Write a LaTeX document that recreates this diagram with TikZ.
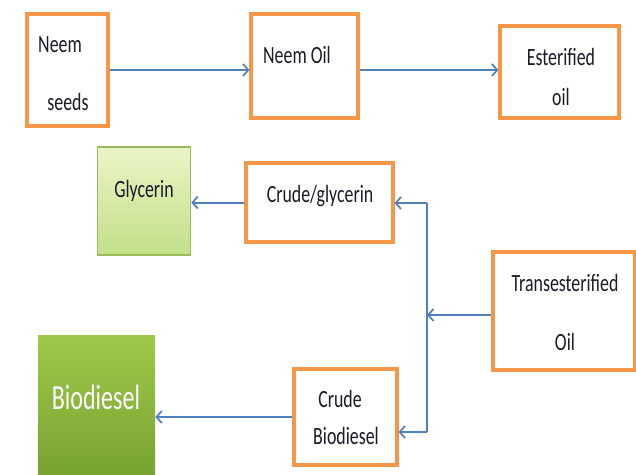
\documentclass[tikz,border=0pt]{standalone}
\usepackage{fontspec}
\setmainfont{Carlito}[FakeStretch=0.72]
\newfontfamily\bigfont{Carlito}[FakeStretch=0.68]
\usetikzlibrary{arrows.meta}
\definecolor{orng}{HTML}{F79646}
\definecolor{arr}{HTML}{4F81BD}
\definecolor{txt}{HTML}{1A1A28}
\definecolor{gltop}{HTML}{EAF5C6}
\definecolor{glbot}{HTML}{C3DF88}
\definecolor{glbrd}{HTML}{9BBB59}
\definecolor{bdtop}{HTML}{9FC84A}
\definecolor{bdbot}{HTML}{76A02E}
\begin{document}
\begin{tikzpicture}[x=0.75pt,y=-0.75pt,
  obox/.style={draw=orng, line width=2.3pt, fill=white, inner sep=0pt},
  gbox/.style={draw=glbrd, line width=1.2pt, top color=gltop, bottom color=glbot, inner sep=0pt},
  bbox/.style={draw=none, top color=bdtop, bottom color=bdbot, inner sep=0pt},
  lbl/.style={text=txt, font=\fontsize{18.6pt}{20pt}\selectfont, inner sep=0pt},
  biglbl/.style={text=white, font=\bigfont\fontsize{26.5pt}{28pt}\selectfont, inner sep=0pt},
  line/.style={draw=arr, line width=1.5pt},
  link/.style={line, -{Straight Barb[length=4pt,width=9pt,line width=1.3pt]}}]
\useasboundingbox (0,0) rectangle (636,475);
% boxes
\node[obox, minimum width=60.75pt, minimum height=84pt] (seeds) at (67.5,70) {};
\node[obox, minimum width=80.25pt, minimum height=78pt] (oil) at (304.5,66) {};
\node[obox, minimum width=89.25pt, minimum height=69pt] (ester) at (559.5,72) {};
\node[gbox, minimum width=69.75pt, minimum height=81pt] (glyc) at (144,201) {};
\node[obox, minimum width=110.25pt, minimum height=59.25pt] (crudeg) at (319.5,202.5) {};
\node[obox, minimum width=106.5pt, minimum height=88.5pt] (trans) at (564,311) {};
\node[obox, minimum width=77.25pt, minimum height=72pt] (crudeb) at (345.5,417) {};
\node[bbox, minimum width=87.75pt, minimum height=112.5pt] (bio) at (96.5,410) {};
% texts
\node[lbl] at (60,45) {Neem};
\node[lbl] at (68,102) {seeds};
\node[lbl] at (297,55) {Neem Oil};
\node[lbl] at (561,57) {Esterified};
\node[lbl] at (561,97) {oil};
\node[lbl] at (144,191) {Glycerin};
\node[lbl] at (320,196) {Crude/glycerin};
\node[lbl] at (565,283) {Transesterified};
\node[lbl] at (565,342) {Oil};
\node[lbl] at (340,399) {Crude};
\node[lbl] at (346,436) {Biodiesel};
\node[biglbl] at (96,397) {Biodiesel};
% connectors
\coordinate (jt) at (427,203);
\coordinate (jm) at (427,315);
\coordinate (jb) at (427,432);
\draw[link] (seeds.east) -- (seeds.east -| oil.west);
\draw[link] (seeds.east -| oil.east) -- (seeds.east -| ester.west);
\draw[link] (crudeg.west) -- (crudeg.west -| glyc.east);
\draw[line] (jt) -- (jb);
\draw[link] (jt) -- (jt -| crudeg.east);
\draw[link] (jm -| trans.west) -- (jm);
\draw[link] (jb) -- (jb -| crudeb.east);
\draw[link] (crudeb.west) -- (crudeb.west -| bio.east);
\end{tikzpicture}
\end{document}
